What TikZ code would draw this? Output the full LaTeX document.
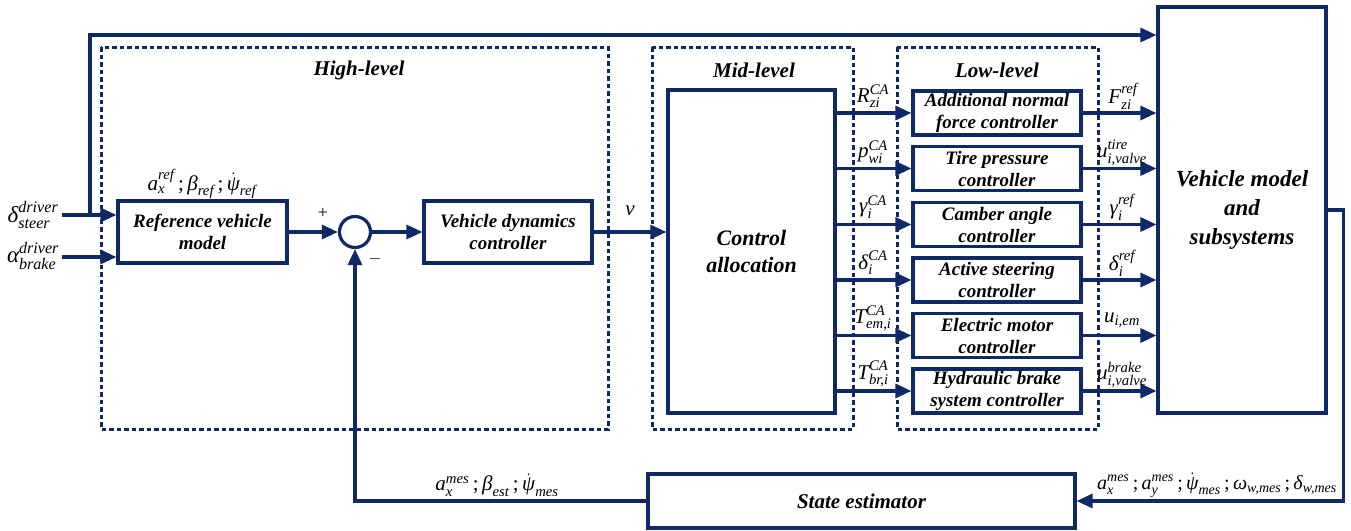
\documentclass[tikz,border=0pt]{standalone}
\usepackage{amsmath}
\usepackage{fontspec}
\setmainfont{Liberation Serif}
\usetikzlibrary{arrows.meta,calc}
\definecolor{navy}{RGB}{14,40,104}

% symbol with superscript and subscript, in the text italic
\newcommand\sy[3]{\ensuremath{\textit{#1}^{\textit{#2}}_{\textit{#3}}}}
\newcommand\sbs[2]{\ensuremath{\textit{#1}_{\textit{#2}}}}
\newcommand\psd[1]{\ensuremath{\dot{\textit{ψ}}_{\textit{#1}}}}
\newcommand\sep{\,;\,}

\begin{document}
\begin{tikzpicture}[x=1pt,y=-1pt,
  wire/.style={draw=navy,line width=3.2pt},
  arr/.style={wire,-{Triangle[length=16pt,width=14pt]}},
  blk/.style={draw=navy,line width=3.2pt,fill=white,rectangle,inner sep=0pt,
    align=center,font=\fontsize{19}{22}\selectfont\bfseries\itshape},
  lvl/.style={draw=navy,line width=3pt,dash pattern=on 4.5pt off 3pt},
  title/.style={inner sep=0pt,font=\fontsize{21}{23}\selectfont\bfseries\itshape},
  lab/.style={inner sep=0pt,font=\fontsize{21}{23}\selectfont},
  sgn/.style={inner sep=0pt,font=\fontsize{18}{20}\selectfont}
]
\useasboundingbox (0,0) rectangle (1351,530);

% level frames
\draw[lvl] (101,47) rectangle (608,429);
\draw[lvl] (652,47) rectangle (853,429);
\draw[lvl] (897,47) rectangle (1098,429);
\node[title] (thigh) at (359,70) {High-level};
\node[title] (tmid) at (754,70) {Mid-level};
\node[title] (tlow) at (997,70) {Low-level};

% blocks
\node[blk,minimum width=169pt,minimum height=62pt] (ref) at (202.5,232) {Reference vehicle\\model};
\node[draw=navy,line width=3.2pt,circle,minimum size=31pt,inner sep=0pt] (sum) at (355,232) {};
\node[blk,minimum width=168pt,minimum height=62pt] (vdc) at (508,232) {Vehicle dynamics\\controller};
\node[blk,minimum width=167pt,minimum height=323pt,font=\fontsize{22}{27}\selectfont\bfseries\itshape] (ca) at (751.5,251.5) {Control\\allocation};
\node[blk,minimum width=168pt,minimum height=406pt,font=\fontsize{23}{29}\selectfont\bfseries\itshape] (vm) at (1242,210) {Vehicle model\\and\\subsystems};
\node[blk,minimum width=427pt,minimum height=54pt,font=\fontsize{21}{24}\selectfont\bfseries\itshape] (se) at (861.5,501) {State estimator};

\node[blk,minimum width=168pt,minimum height=44pt] (l1) at (997,113) {Additional normal\\force controller};
\node[blk,minimum width=168pt,minimum height=44pt] (l2) at (997,168.5) {Tire pressure\\controller};
\node[blk,minimum width=168pt,minimum height=44pt] (l3) at (997,224.5) {Camber angle\\controller};
\node[blk,minimum width=168pt,minimum height=44pt] (l4) at (997,280) {Active steering\\controller};
\node[blk,minimum width=168pt,minimum height=44pt] (l5) at (997,335.5) {Electric motor\\controller};
\node[blk,minimum width=168pt,minimum height=44pt] (l6) at (997,391) {Hydraulic brake\\system controller};

% driver inputs
\coordinate (din) at (62,215);
\coordinate (ain) at (62,257);
\coordinate (jn) at (90,215);
\coordinate (tp) at (90,35);
\draw[arr] (din) -- (din -| ref.west);
\draw[arr] (ain) -- (ain -| ref.west);
\draw[arr] (jn) -- (tp) -- (tp -| vm.west);
\node[lab,font=\fontsize{23}{25}\selectfont] (ldelta) at (33,215) {\sy{δ}{driver}{steer}};
\node[lab,font=\fontsize{23}{25}\selectfont] (lalpha) at (33,256) {\sy{α}{driver}{brake}};

% high-level loop
\draw[arr] (ref.east) -- (sum.west);
\draw[arr] (sum.east) -- (vdc.west);
\draw[arr] (vdc.east) -- (vdc.east -| ca.west);
\node[sgn] (plus) at (323,213) {+};
\node[sgn] (minus) at (375,259) {$-$};
\node[lab] (lref) at (202,184) {\sy{a}{ref}{x}\sep\sbs{β}{ref}\sep\psd{ref}};
\node[lab] (lv) at (630,211) {\textit{v}};

% allocation to low-level controllers to vehicle
\foreach \n in {l1,l2,l3,l4,l5,l6}{
  \draw[arr] (ca.east |- \n.west) -- (\n.west);
  \draw[arr] (\n.east) -- (vm.west |- \n.east);
}
\node[lab] (c1) at (873,96) {\sy{R}{CA}{zi}};
\node[lab] (c2) at (873,152) {\sy{p}{CA}{wi}};
\node[lab] (c3) at (873,207) {\sy{γ}{CA}{i}};
\node[lab] (c4) at (873,263) {\sy{δ}{CA}{i}};
\node[lab] (c5) at (873,318) {\sy{T}{CA}{em,i}};
\node[lab] (c6) at (873,374) {\sy{T}{CA}{br,i}};
\node[lab] (r1) at (1123,96) {\sy{F}{ref}{zi}};
\node[lab] (r2) at (1122,153) {\sy{u}{tire}{i,valve}};
\node[lab] (r3) at (1122,207) {\sy{γ}{ref}{i}};
\node[lab] (r4) at (1122,263) {\sy{δ}{ref}{i}};
\node[lab] (r5) at (1122,320) {\sbs{u}{i,em}};
\node[lab] (r6) at (1122,375) {\sy{u}{brake}{i,valve}};

% measurement feedback
\draw[arr] (vm.east) -- ++(16,0) |- (se.east);
\draw[arr] (se.west) -| (sum.south);
\node[lab] (lmes) at (497,485) {\sy{a}{mes}{x}\sep\sbs{β}{est}\sep\psd{mes}};
\node[lab,font=\fontsize{20}{22}\selectfont] (lmeas) at (1217,485) {\sy{a}{mes}{x}\sep\sy{a}{mes}{y}\sep\psd{mes}\sep\sbs{ω}{w,mes}\sep\sbs{δ}{w,mes}};
\end{tikzpicture}
\end{document}
